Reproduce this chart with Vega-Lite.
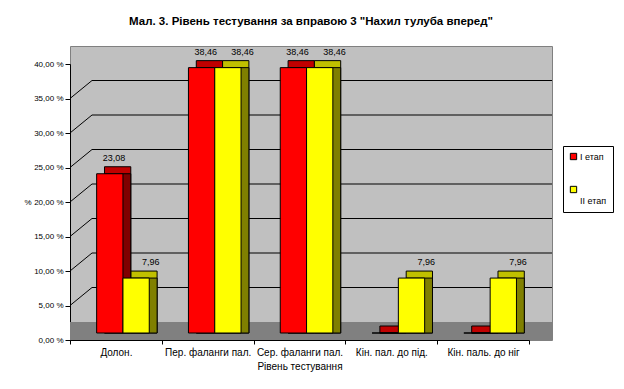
{
  "$schema": "https://vega.github.io/schema/vega-lite/v6.json",
  "width": 482,
  "height": 294,
  "autosize": {"type": "none"},
  "padding": {"left": 70, "top": 46, "right": 72, "bottom": 49},
  "background": "white",
  "config": {
    "font": "Liberation Sans",
    "view": {"fill": "#c0c0c0", "stroke": "#808080"},
    "locale": {"number": {"decimal": ",", "thousands": " ", "grouping": [3], "currency": ["", ""]}},
    "axisX": {
      "title": "Рівень тестування", "titleFontSize": 10, "titleFontWeight": "normal", "titleColor": "black", "titlePadding": 4,
      "labelFontSize": 10, "labelColor": "black", "labelAngle": 0, "labelPadding": 3,
      "domainColor": "black", "tickColor": "black", "tickSize": 4, "tickBand": "extent", "grid": false
    },
    "axisY": {
      "title": "%", "titleAngle": 0, "titleAlign": "right", "titleBaseline": "middle", "titleX": -39, "titleY": 156,
      "titleFontSize": 8, "titleFontWeight": "normal", "titleColor": "black",
      "values": [0, 5, 10, 15, 20, 25, 30, 35, 40],
      "labelExpr": "format(datum.value, '.2f') + ' %'",
      "labelFontSize": 8, "labelColor": "black", "labelPadding": 2, "labelOverlap": false,
      "domainColor": "black", "tickColor": "black", "tickSize": 5, "grid": false
    }
  },
  "title": {
    "text": "Мал. 3. Рівень тестування за вправою 3 \"Нахил тулуба вперед\"",
    "fontSize": 11.5,
    "fontWeight": "bold",
    "anchor": "middle",
    "offset": 19,
    "color": "black"
  },
  "data": {
    "values": [
      {"cat": "Долон.", "series": "I етап", "value": 23.08},
      {"cat": "Долон.", "series": "II етап", "value": 7.96},
      {"cat": "Пер. фаланги пал.", "series": "I етап", "value": 38.46},
      {"cat": "Пер. фаланги пал.", "series": "II етап", "value": 38.46},
      {"cat": "Сер. фаланги пал.", "series": "I етап", "value": 38.46},
      {"cat": "Сер. фаланги пал.", "series": "II етап", "value": 38.46},
      {"cat": "Кін. пал. до під.", "series": "I етап", "value": 0},
      {"cat": "Кін. пал. до під.", "series": "II етап", "value": 7.96},
      {"cat": "Кін. паль. до ніг", "series": "I етап", "value": 0},
      {"cat": "Кін. паль. до ніг", "series": "II етап", "value": 7.96}
    ]
  },
  "layer": [
    {
      "mark": {"type": "rect", "fill": "#808080", "y2Offset": -18},
      "encoding": {
        "y": {"datum": 0, "type": "quantitative", "scale": {"domain": [0, 40], "range": [294, 18], "nice": false, "zero": true}, "title": "%"},
        "y2": {"datum": 0}
      }
    },
    {
      "data": {"values": [{"v": 5}, {"v": 10}, {"v": 15}, {"v": 20}, {"v": 25}, {"v": 30}, {"v": 35}]},
      "mark": {"type": "rule", "color": "black", "strokeWidth": 1, "xOffset": -23.9, "x2Offset": 68.9, "yOffset": -18},
      "encoding": {
        "x": {"datum": "Долон.", "type": "nominal", "title": "Рівень тестування", "scale": {"domain": ["Долон.", "Пер. фаланги пал.", "Сер. фаланги пал.", "Кін. пал. до під.", "Кін. паль. до ніг"], "range": [0, 459], "paddingInner": 0, "paddingOuter": 0}},
        "x2": {"datum": "Кін. паль. до ніг"},
        "y": {"field": "v", "type": "quantitative", "title": "%"}
      }
    },
    {
      "data": {"values": [{"v": 5}, {"v": 10}, {"v": 15}, {"v": 20}, {"v": 25}, {"v": 30}, {"v": 35}]},
      "mark": {"type": "rule", "color": "black", "strokeWidth": 1, "xOffset": -45.9, "x2Offset": -23.9, "y2Offset": -18},
      "encoding": {
        "x": {"datum": "Долон.", "type": "nominal", "title": "Рівень тестування"},
        "x2": {"datum": "Долон."},
        "y": {"field": "v", "type": "quantitative", "title": "%"},
        "y2": {"field": "v"}
      }
    },
    {
      "mark": {"type": "bar", "orient": "vertical", "stroke": "black", "strokeWidth": 1, "yOffset": -14, "y2Offset": -7},
      "encoding": {
        "x": {"field": "cat", "type": "nominal", "title": "Рівень тестування"},
        "xOffset": {"field": "series", "type": "nominal", "sort": null, "scale": {"paddingInner": 0, "paddingOuter": 0.745, "align": 0.88}},
        "y": {"field": "value", "type": "quantitative", "title": "%"},
        "y2": {"datum": 0},
        "color": {"field": "series", "type": "nominal", "scale": {"domain": ["I етап", "II етап"], "range": ["#c00000", "#c0c000"]}, "legend": null}
      }
    },
    {
      "mark": {"type": "bar", "orient": "vertical", "stroke": "black", "strokeWidth": 1, "yOffset": -7, "y2Offset": -7},
      "encoding": {
        "x": {"field": "cat", "type": "nominal", "title": "Рівень тестування"},
        "xOffset": {"field": "series", "type": "nominal", "sort": null, "scale": {"paddingInner": 0, "paddingOuter": 0.745, "align": 0.88}},
        "y": {"field": "value", "type": "quantitative", "title": "%"},
        "y2": {"datum": 0},
        "color": {"field": "series", "type": "nominal", "scale": {"domain": ["I етап", "II етап"], "range": ["#800000", "#808000"]}, "legend": null}
      }
    },
    {
      "mark": {"type": "bar", "orient": "vertical", "stroke": "black", "strokeWidth": 1, "yOffset": -7, "y2Offset": -7},
      "encoding": {
        "x": {"field": "cat", "type": "nominal", "title": "Рівень тестування"},
        "xOffset": {"field": "series", "type": "nominal", "sort": null, "scale": {"paddingInner": 0, "paddingOuter": 0.745, "align": 0.68}},
        "y": {"field": "value", "type": "quantitative", "title": "%"},
        "y2": {"datum": 0},
        "color": {
          "field": "series", "type": "nominal",
          "scale": {"domain": ["I етап", "II етап"], "range": ["#ff0000", "#ffff00"]},
          "legend": {
            "orient": "none", "legendX": 493, "legendY": 100, "title": null,
            "symbolType": "square", "symbolSize": 40, "symbolStrokeColor": "black", "symbolStrokeWidth": 1,
            "labelFontSize": 9, "labelColor": "black", "labelOffset": 2,
            "labelExpr": "datum.label == 'II етап' ? ['', 'II етап'] : datum.label",
            "strokeColor": "black", "fillColor": "white", "padding": 6, "rowPadding": 22
          }
        }
      }
    },
    {
      "transform": [{"filter": "datum.value > 0"}],
      "mark": {"type": "text", "fontSize": 9, "color": "black", "baseline": "middle", "align": "center", "yOffset": -23},
      "encoding": {
        "x": {"field": "cat", "type": "nominal", "title": "Рівень тестування"},
        "xOffset": {"field": "series", "type": "nominal", "sort": null, "scale": {"paddingInner": 0, "paddingOuter": 0.745, "align": 0.8}},
        "y": {"field": "value", "type": "quantitative", "title": "%"},
        "text": {"field": "value", "type": "quantitative", "format": ".2f"}
      }
    }
  ],
  "resolve": {"scale": {"color": "independent", "xOffset": "independent"}}
}
